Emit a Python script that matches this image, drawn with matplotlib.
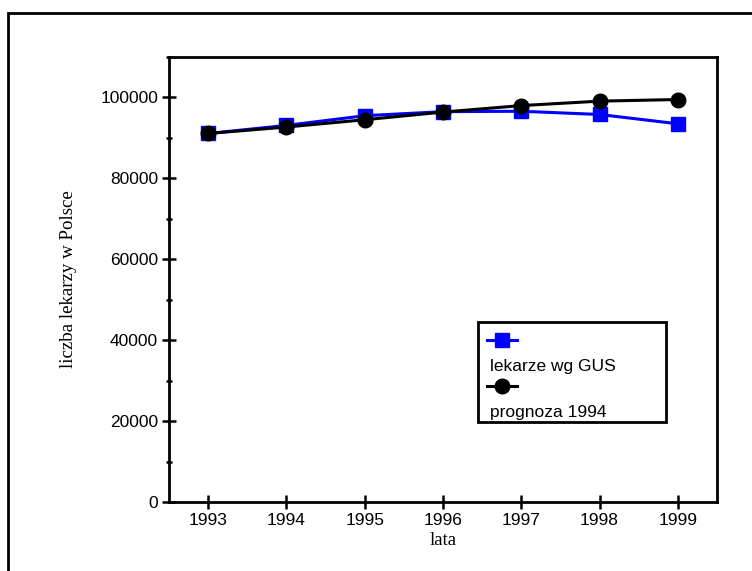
import matplotlib
matplotlib.use("Agg")
import matplotlib.pyplot as plt
from matplotlib.patches import Rectangle
from matplotlib.ticker import MultipleLocator

# dane
lata = [1993, 1994, 1995, 1996, 1997, 1998, 1999]
lekarze_gus = [91100, 93100, 95500, 96500, 96600, 95800, 93500]
prognoza_1994 = [91100, 92700, 94500, 96400, 98000, 99100, 99500]
y_ticks = [0, 20000, 40000, 60000, 80000, 100000]

plt.rcParams['font.family'] = ['Liberation Sans', 'DejaVu Sans']

fig = plt.figure(figsize=(7.52, 5.71), dpi=100)
ax = fig.add_axes([0.2247, 0.1208, 0.7287, 0.7793])

# ramka wokol calego wykresu
fig.add_artist(Rectangle((0.0106, -0.2), 1.2, 1.177, transform=fig.transFigure,
                         fill=False, lw=2, edgecolor='black'))

ax.plot(lata, lekarze_gus, color='#0000ff', lw=2.2, marker='s', markersize=10)
ax.plot(lata, prognoza_1994, color='black', lw=2.2, marker='o', markersize=10.5)

ax.set_xlim(1992.5, 1999.5)
ax.set_ylim(0, 110000)
ax.set_xticks(lata)
ax.set_yticks(y_ticks)
ax.yaxis.set_minor_locator(MultipleLocator(10000))

for s in ax.spines.values():
    s.set_linewidth(2.0)
ax.tick_params(which='major', direction='inout', length=9.5, width=1.8,
               labelsize=12.5, pad=3)
ax.tick_params(which='minor', direction='inout', length=5, width=1.8)

ax.set_xlabel('lata', family=['Liberation Serif'], fontsize=13.5, labelpad=3)
ax.set_ylabel('liczba lekarzy w Polsce', family=['Liberation Serif'],
              fontsize=13.6, labelpad=17)

# legenda rysowana recznie (znacznik nad tekstem)
ax.add_patch(Rectangle((0.564, 0.1798), 0.343, 0.2247, transform=ax.transAxes,
                       fill=True, facecolor='white', edgecolor='black', lw=2, zorder=5))
ax.plot([0.580, 0.635], [0.364, 0.364], transform=ax.transAxes, color='#0000ff',
        lw=2.2, zorder=6)
ax.plot([0.607], [0.364], transform=ax.transAxes, color='#0000ff', marker='s',
        markersize=10, zorder=6)
ax.text(0.586, 0.3056, 'lekarze wg GUS', transform=ax.transAxes, fontsize=12.5,
        va='center', zorder=6)
ax.plot([0.580, 0.635], [0.2607, 0.2607], transform=ax.transAxes, color='black',
        lw=2.2, zorder=6)
ax.plot([0.607], [0.2607], transform=ax.transAxes, color='black', marker='o',
        markersize=10.5, zorder=6)
ax.text(0.586, 0.2022, 'prognoza 1994', transform=ax.transAxes, fontsize=12.5,
        va='center', zorder=6)

fig.savefig('out.png', dpi=100)
